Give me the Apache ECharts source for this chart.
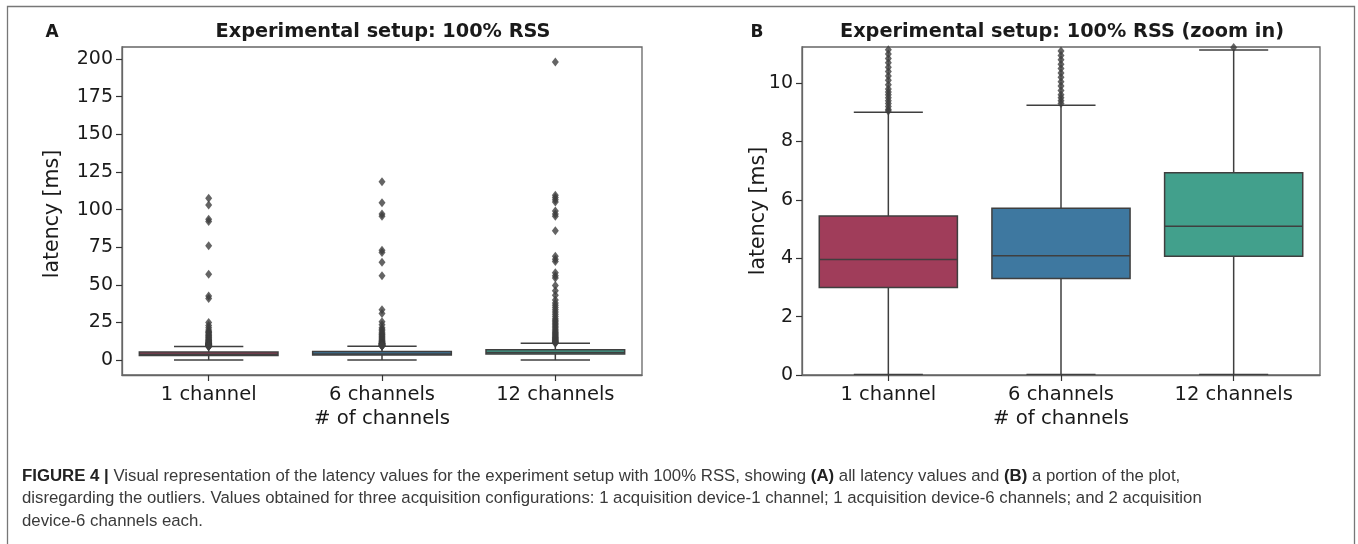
<!DOCTYPE html>
<html>
<head>
<meta charset="utf-8">
<script src="https://cdn.jsdelivr.net/npm/echarts@6/dist/echarts.min.js"></script>
<style>
  html, body { margin: 0; padding: 0; background: #fff; }
  #chart { width: 1358px; height: 544px; }
</style>
</head>
<body>
<div id="chart"></div>
<script>
// ---- data ----
const categories = ['1 channel', '6 channels', '12 channels'];
const whiskerLow = [0.02, 0.02, 0.02];
const q1 = [3.0, 3.31, 4.07];
const medians = [3.96, 4.09, 5.10];
const q3 = [5.45, 5.71, 6.93];
const whiskerHigh = [9.0, 9.24, 11.14];

const outliers1 = [107.5, 103, 93.5, 92, 76, 57, 42.5, 41, 25, 23, 21.5, 20, 19, 18.5, 18, 17.2, 16.5, 16,
  15.3, 14.8, 14.2, 13.7, 13.2, 12.8, 12.4, 12.0, 11.7, 11.4, 11.15, 11.0, 10.85, 10.7, 10.55, 10.4, 10.25,
  10.1, 9.95, 9.8, 9.7, 9.6, 9.5, 9.4, 9.3, 9.2, 9.1, 9.05];
const outliers6 = [118.5, 104.5, 97, 95.5, 73, 71.5, 65, 56, 33.5, 31, 25.5, 23.5, 21.5, 20.5, 19.5, 18.5,
  17.5, 17, 16.2, 15.5, 14.8, 14.2, 13.6, 13.1, 12.6, 12.2, 11.8, 11.5, 11.25, 11.1, 10.95, 10.8, 10.65,
  10.5, 10.35, 10.2, 10.05, 9.9, 9.75, 9.6, 9.5, 9.4, 9.3];
const outliers12 = [198, 109.5, 108, 106.5, 105, 99, 97, 95.5, 86, 69, 67, 65.5, 58, 56, 54.5, 49.5, 46, 43,
  40, 38, 36.5, 35, 33.5, 32, 30.5, 29, 27.5, 26.5, 25.5, 24.5, 23.5, 22.5, 21.5, 20.5, 19.5, 18.7, 18,
  17.3, 16.6, 16, 15.4, 14.8, 14.3, 13.8, 13.3, 12.9, 12.5, 12.1, 11.8, 11.5, 11.22];

const yTicksA = [0, 25, 50, 75, 100, 125, 150, 175, 200];
const yTicksB = [0, 2, 4, 6, 8, 10];

const titleA = 'Experimental setup: 100% RSS';
const titleB = 'Experimental setup: 100% RSS (zoom in)';
const xName = '# of channels';
const yName = 'latency [ms]';

// ---- styles ----
const boxColors = ['#A03D5A', '#3E78A0', '#42A08C'];
const edge = '#3f3f3f';
const txt = '#1a1a1a';
const FONT = 'DejaVu Sans';

const boxData = categories.map((c, i) => [i, whiskerLow[i], q1[i], medians[i], q3[i], whiskerHigh[i]]);
const outlierData = [outliers1, outliers6, outliers12]
  .flatMap((arr, i) => arr.map(v => [i, v]));

function renderBox(params, api) {
  const i = api.value(0);
  const lo = api.coord([i, api.value(1)]);
  const b1 = api.coord([i, api.value(2)]);
  const md = api.coord([i, api.value(3)]);
  const b3 = api.coord([i, api.value(4)]);
  const hi = api.coord([i, api.value(5)]);
  const band = api.size([1, 0])[0];
  const w = band * 0.8;
  const cx = lo[0];
  const ls = { stroke: edge, lineWidth: 1.5 };
  return {
    type: 'group',
    children: [
      { type: 'line', shape: { x1: cx, y1: b1[1], x2: cx, y2: lo[1] }, style: ls },
      { type: 'line', shape: { x1: cx, y1: b3[1], x2: cx, y2: hi[1] }, style: ls },
      { type: 'line', shape: { x1: cx - w / 4, y1: lo[1], x2: cx + w / 4, y2: lo[1] }, style: ls },
      { type: 'line', shape: { x1: cx - w / 4, y1: hi[1], x2: cx + w / 4, y2: hi[1] }, style: ls },
      { type: 'rect', shape: { x: cx - w / 2, y: b3[1], width: w, height: b1[1] - b3[1] },
        style: { fill: boxColors[i], stroke: edge, lineWidth: 1.5 } },
      { type: 'line', shape: { x1: cx - w / 2, y1: md[1], x2: cx + w / 2, y2: md[1] }, style: ls }
    ]
  };
}

const grids = [
  { left: 122, top: 47, width: 520, height: 328 },
  { left: 802, top: 47, width: 518, height: 328 }
];

function xAxisFor(gi) {
  return {
    type: 'category', gridIndex: gi, data: categories, boundaryGap: true,
    axisLine: { show: true, onZero: false, lineStyle: { color: '#666', width: 1.3 } },
    axisTick: { show: true, alignWithLabel: true, length: 6, lineStyle: { color: '#333', width: 1.2 } },
    axisLabel: { color: txt, fontFamily: FONT, fontSize: 19.5, margin: 10 },
    splitLine: { show: false }
  };
}
function yAxisFor(gi, min, max, ticks) {
  return {
    type: 'value', gridIndex: gi, min: min, max: max,
    axisLine: { show: true, lineStyle: { color: '#666', width: 1.3 } },
    axisTick: { show: true, length: 6, customValues: ticks, lineStyle: { color: '#333', width: 1.2 } },
    axisLabel: { color: txt, fontFamily: FONT, fontSize: 19, margin: 9, customValues: ticks },
    splitLine: { show: false }
  };
}

const chart = echarts.init(document.getElementById('chart'), null, { renderer: 'canvas' });

const textStyle = (extra) => Object.assign({ fill: txt, fontFamily: FONT, align: 'center', verticalAlign: 'middle' }, extra);

chart.setOption({
  animation: false,
  backgroundColor: '#fff',
  grid: grids.map(g => Object.assign({ show: true, borderColor: '#666', borderWidth: 1.3, backgroundColor: 'transparent', containLabel: false }, g)),
  xAxis: [xAxisFor(0), xAxisFor(1)],
  yAxis: [yAxisFor(0, -9.9, 208, yTicksA), yAxisFor(1, 0, 11.24, yTicksB)],
  series: [
    { type: 'custom', xAxisIndex: 0, yAxisIndex: 0, data: boxData, renderItem: renderBox, encode: { x: 0, y: [1, 5] }, clip: true, z: 2 },
    { type: 'scatter', xAxisIndex: 0, yAxisIndex: 0, data: outlierData, symbol: 'diamond', symbolSize: [7, 9],
      itemStyle: { color: '#3d3d3d' }, clip: true, z: 3 },
    { type: 'custom', xAxisIndex: 1, yAxisIndex: 1, data: boxData, renderItem: renderBox, encode: { x: 0, y: [1, 5] }, clip: true, z: 2 },
    { type: 'scatter', xAxisIndex: 1, yAxisIndex: 1, data: outlierData, symbol: 'diamond', symbolSize: [7, 9],
      itemStyle: { color: '#3d3d3d' }, clip: true, z: 3 }
  ],
  graphic: [
    { type: 'rect', shape: { x: 7.5, y: 6.5, width: 1347, height: 600 }, style: { fill: 'none', stroke: '#777', lineWidth: 1.3 }, silent: true },
    { type: 'text', x: 52, y: 33, style: textStyle({ text: 'A', fontSize: 17, fontWeight: 'bold' }) },
    { type: 'text', x: 757, y: 33, style: textStyle({ text: 'B', fontSize: 17, fontWeight: 'bold' }) },
    { type: 'text', x: 383, y: 32, style: textStyle({ text: titleA, fontSize: 19.3, fontWeight: 'bold' }) },
    { type: 'text', x: 1062, y: 32, style: textStyle({ text: titleB, fontSize: 19.3, fontWeight: 'bold' }) },
    { type: 'text', x: 382, y: 419, style: textStyle({ text: xName, fontSize: 19.7 }) },
    { type: 'text', x: 1061, y: 419, style: textStyle({ text: xName, fontSize: 19.7 }) },
    { type: 'text', x: 53, y: 214, rotation: Math.PI / 2, style: textStyle({ text: yName, fontSize: 20.5 }) },
    { type: 'text', x: 759, y: 211, rotation: Math.PI / 2, style: textStyle({ text: yName, fontSize: 20.5 }) },
    { type: 'text', x: 22, y: 465,
      style: {
        text: '{b|FIGURE 4 |} Visual representation of the latency values for the experiment setup with 100% RSS, showing {b|(A)} all latency values and {b|(B)} a portion of the plot,\n' +
              'disregarding the outliers. Values obtained for three acquisition configurations: 1 acquisition device-1 channel; 1 acquisition device-6 channels; and 2 acquisition\n' +
              'device-6 channels each.',
        fill: '#3a3a3a', fontFamily: 'Liberation Sans', fontSize: 16.8, lineHeight: 22.5,
        align: 'left', verticalAlign: 'top',
        rich: { b: { fontWeight: 'bold', fill: '#222', fontFamily: 'Liberation Sans', fontSize: 16.8, lineHeight: 22.5 } }
      }
    }
  ]
});
</script>
</body>
</html>
